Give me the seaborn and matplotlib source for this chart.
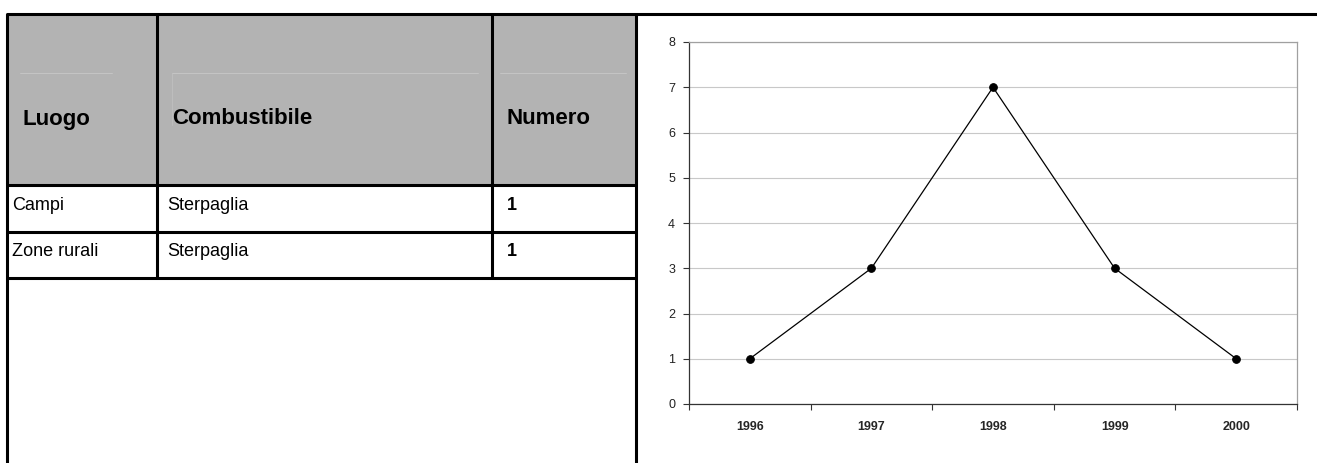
import matplotlib
matplotlib.use("Agg")
import matplotlib.pyplot as plt
import matplotlib.patches as patches
import seaborn as sns
import pandas as pd

# table contents
col_headers = ["Luogo", "Combustibile", "Numero"]
luoghi = ["Campi", "Zone rurali"]
combustibili = ["Sterpaglia", "Sterpaglia"]
numeri = [1, 1]

# chart data
anni = ["1996", "1997", "1998", "1999", "2000"]
valori = [1, 3, 7, 3, 1]

sns.set_theme(style="white")
plt.rcParams["font.family"] = ["Liberation Sans", "DejaVu Sans"]

W, H = 1317, 463
fig = plt.figure(figsize=(W / 100, H / 100), dpi=100)

# ---- table drawn on a pixel-coordinate axes ----
tab = fig.add_axes([0, 0, 1, 1])
tab.set_xlim(0, W)
tab.set_ylim(H, 0)
tab.axis("off")

x_cols = [7, 157, 492, 636]
y_head, y_rows = 14, [185, 232, 278]
lw = 2.2

tab.add_patch(patches.Rectangle((x_cols[0], y_head), x_cols[-1] - x_cols[0], y_rows[0] - y_head,
                                facecolor="#b3b3b3", edgecolor="none"))
# faint text-box edges in the header
for x0, x1 in [(20, 112), (172, 478), (500, 626)]:
    tab.plot([x0, x1], [73, 73], color="#c8c8c8", lw=0.6)
tab.plot([172, 172], [73, 125], color="#c0c0c0", lw=0.6)

tab.plot([x_cols[0], W], [y_head, y_head], color="black", lw=lw, solid_capstyle="butt")
for x in (x_cols[0], x_cols[-1]):
    tab.plot([x, x], [y_head, H], color="black", lw=lw)
for x in x_cols[1:3]:
    tab.plot([x, x], [y_head, y_rows[-1]], color="black", lw=lw)
for y in y_rows:
    tab.plot([x_cols[0], x_cols[-1]], [y, y], color="black", lw=lw)

head_x = [23, 172, 506]
for hx, txt in zip(head_x, col_headers):
    tab.text(hx, 119, txt, fontsize=16, fontweight="bold", va="center", ha="left", color="black")

body_x = [12, 167, 507]
for i, (l, c, n) in enumerate(zip(luoghi, combustibili, numeri)):
    yc = (y_rows[i] + y_rows[i + 1]) / 2 - 3
    tab.text(body_x[0], yc, l, fontsize=13, va="center", ha="left", color="black")
    tab.text(body_x[1], yc, c, fontsize=13, va="center", ha="left", color="black")
    tab.text(body_x[2], yc, str(n), fontsize=13, fontweight="bold", va="center", ha="left", color="black")

# ---- line chart ----
df = pd.DataFrame({"anno": anni, "valore": valori})
df["pos"] = range(len(df))

ax = fig.add_axes([689 / W, 1 - 404 / H, (1297 - 689) / W, (404 - 42) / H])
sns.lineplot(data=df, x="pos", y="valore", ax=ax, color="black", lw=0.9,
             marker="o", markersize=5.5, markeredgecolor="black", markerfacecolor="black")
ax.set_xlim(-0.5, len(anni) - 0.5)
ax.set_ylim(0, 8)
ax.set_yticks(range(0, 9))
ax.set_xticks(df["pos"])
ax.set_xticklabels(anni, fontsize=9, fontweight="bold")
ax.set_xticks([p - 0.5 for p in range(len(anni) + 1)], minor=True)
ax.tick_params(axis="x", which="major", length=0, pad=12)
ax.tick_params(axis="x", which="minor", length=4, width=0.8, color="#333333", direction="out", bottom=True)
ax.tick_params(axis="y", length=4, width=0.8, color="#333333", direction="out", left=True,
               labelsize=9, labelcolor="#222222", pad=6)
ax.set_xlabel("")
ax.set_ylabel("")
ax.yaxis.grid(True, color="#c8c8c8", lw=0.8)
ax.set_axisbelow(True)
ax.spines["left"].set_color("#333333")
ax.spines["bottom"].set_color("#333333")
ax.spines["top"].set_color("#a0a0a0")
ax.spines["right"].set_color("#a0a0a0")
for s in ax.spines.values():
    s.set_linewidth(0.9)

fig.savefig("out.png", dpi=100)
